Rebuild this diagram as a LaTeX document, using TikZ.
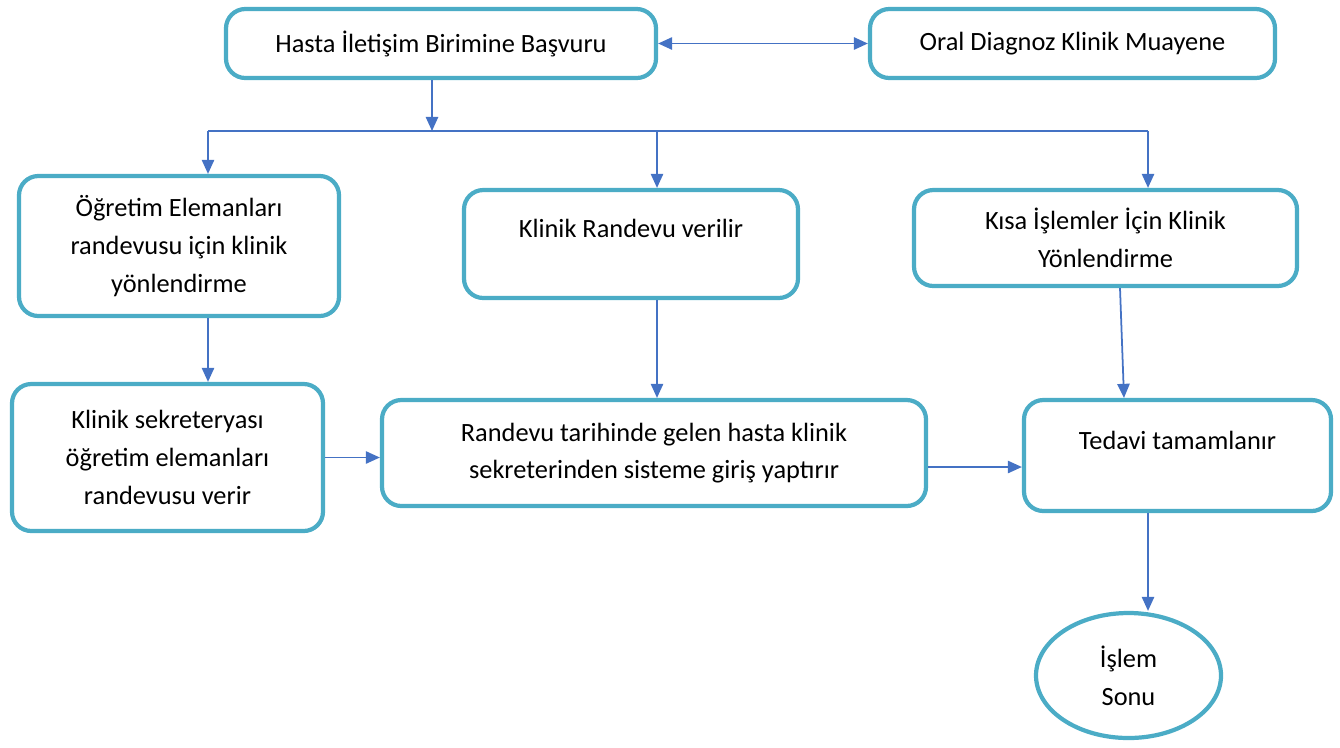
\documentclass[tikz,border=0pt]{standalone}
\usepackage{fontspec}
\setmainfont{Carlito}
\usetikzlibrary{calc, positioning, arrows.meta, shapes.geometric}
\definecolor{boxline}{HTML}{4BACC6}
\definecolor{arrowline}{HTML}{4472C4}

\begin{document}
\begin{tikzpicture}[
        step_box/.style={draw=boxline, line width=2.4pt, rounded corners=11pt, fill=white, align=center, font=\fontsize{15}{21.5}\selectfont, inner sep=2pt},
        top_text/.style={text depth=0.62cm},
        end_node/.style={draw=boxline, line width=2.4pt, ellipse, fill=white, align=center, font=\fontsize{15}{21.5}\selectfont, inner sep=0pt},
        arrow/.style={-{Triangle[length=8pt, width=7pt]}, draw=arrowline, line width=1pt},
        arrow_both/.style={{Triangle[length=8pt, width=7pt]}-{Triangle[length=8pt, width=7pt]}, draw=arrowline, line width=1.1pt},
        bus/.style={draw=arrowline, line width=1pt}
    ]
    \useasboundingbox (0,0) rectangle (26.8,-14.94);

    % ================= Top row =================
    \node[step_box, minimum width=8.6cm, minimum height=1.38cm] (hasta) at (8.82, -0.87) {Hasta İletişim Birimine Başvuru};
    \node[step_box, minimum width=8.1cm, minimum height=1.38cm] (oral) at (21.45, -0.87) {Oral Diagnoz Klinik Muayene};

    \draw[arrow_both] (hasta.east) -- (oral.west);

    % ================= Branching line =================
    \coordinate (bus_top) at (8.64, -2.62);
    \coordinate (bus_L) at (4.16, -2.62);
    \coordinate (bus_M) at (13.14, -2.62);
    \coordinate (bus_R) at (22.96, -2.62);

    \draw[arrow] (hasta.south -| bus_top) -- (bus_top);
    \draw[bus] (bus_L) -- (bus_R);

    % ================= Middle row =================
    \node[step_box, minimum width=6.4cm, minimum height=2.8cm] (ogretim) at (3.58, -4.92) {Öğretim Elemanları\\randevusu için klinik\\yönlendirme};
    \node[step_box, top_text, minimum width=6.68cm, minimum height=2.16cm] (randevu) at (12.62, -4.88) {Klinik Randevu verilir};
    \node[step_box, minimum width=7.66cm, minimum height=1.92cm] (kisa) at (22.11, -4.76) {Kısa İşlemler İçin Klinik\\Yönlendirme};

    \draw[arrow] (bus_L) -- (bus_L |- ogretim.north);
    \draw[arrow] (bus_M) -- (bus_M |- randevu.north);
    \draw[arrow] (bus_R) -- (bus_R |- kisa.north);

    % ================= Lower row =================
    \node[step_box, minimum width=6.22cm, minimum height=2.94cm] (sekreter) at (3.35, -9.15) {Klinik sekreteryası\\öğretim elemanları\\randevusu verir};
    \node[step_box, minimum width=10.88cm, minimum height=2.12cm] (giris) at (13.08, -9.06) {Randevu tarihinde gelen hasta klinik\\sekreterinden sisteme giriş yaptırır};
    \node[step_box, top_text, minimum width=6.14cm, minimum height=2.22cm] (tedavi) at (23.55, -9.11) {Tedavi tamamlanır};

    \draw[arrow] (ogretim.south -| bus_L) -- (bus_L |- sekreter.north);
    \draw[arrow] (randevu.south -| bus_M) -- (bus_M |- giris.north);
    \draw[arrow] ([xshift=0.29cm]kisa.south) -- ([xshift=-1.07cm]tedavi.north);

    \draw[arrow] (sekreter.east) -- (sekreter.east -| giris.west);
    \draw[arrow] ([yshift=-0.28cm]giris.east) -- ([yshift=-0.28cm]giris.east -| tedavi.west);

    % ================= End =================
    \node[end_node, minimum width=3.7cm, minimum height=2.5cm] (son) at (22.57, -13.51) {İşlem\\Sonu};

    \draw[arrow] (tedavi.south -| bus_R) -- (bus_R |- son.north);

\end{tikzpicture}
\end{document}
